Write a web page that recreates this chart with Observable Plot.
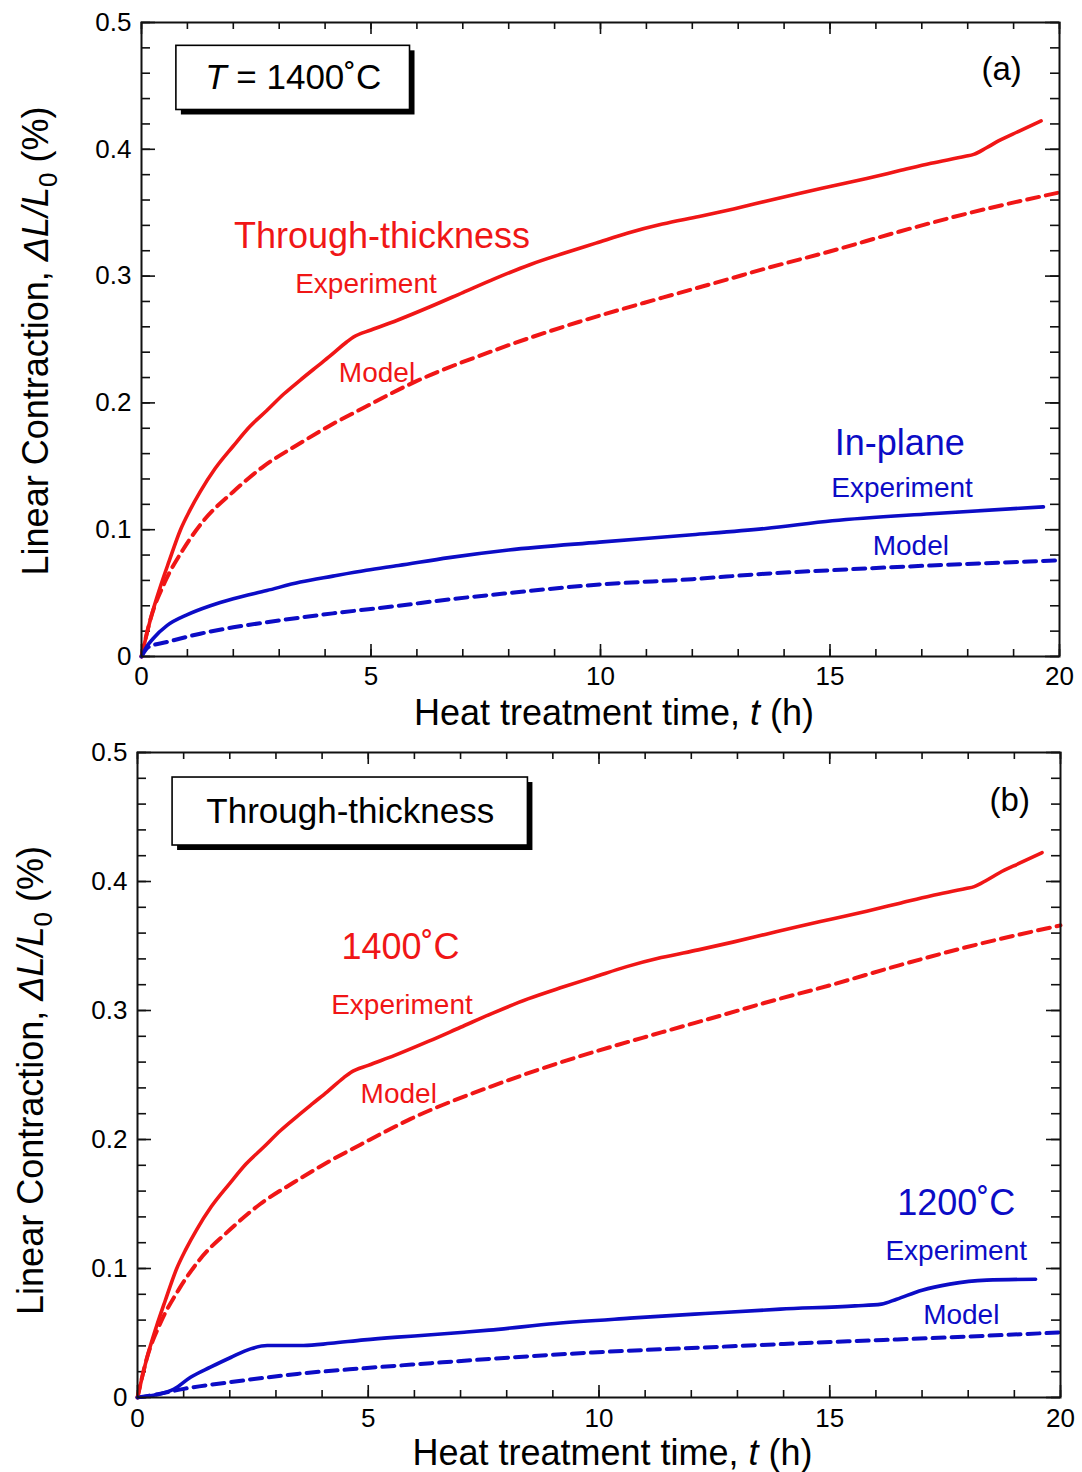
<!DOCTYPE html>
<html><head><meta charset="utf-8">
<script src="https://cdn.jsdelivr.net/npm/d3@7"></script>
<script src="https://cdn.jsdelivr.net/npm/@observablehq/plot@0.6"></script>
<style>
body{margin:0;background:#fff;}
#chart{width:1082px;}
#chart svg{display:block;}
</style></head><body><div id="chart"></div>
<script>
// ---------- data ----------
const xMajor = [0, 5, 10, 15, 20];
const xMinor = d3.range(0, 21, 1);
const yMajor = [0, 0.1, 0.2, 0.3, 0.4, 0.5];
const yMinor = d3.range(0, 26).map(i => i * 0.02);

// 1400 C through-thickness experiment
const redExpTime  = [0, 0.2, 0.41, 0.6, 0.85, 1.05, 1.28, 1.6, 2.0, 2.35, 2.73, 3.1, 3.46, 3.8, 4.11, 4.47, 4.62, 5.0, 5.56, 6.3, 7.0, 7.7, 8.46, 9.2, 9.9, 10.6, 11.35, 12.15, 12.9, 13.6, 14.3, 15.05, 15.8, 16.5, 17.2, 17.95, 18.13, 18.4, 18.67, 19.1, 19.6];
const redExpValue = [0, 0.03, 0.055, 0.075, 0.1, 0.115, 0.13, 0.148, 0.166, 0.181, 0.194, 0.207, 0.218, 0.228, 0.237, 0.248, 0.252, 0.2575, 0.265, 0.276, 0.287, 0.298, 0.309, 0.318, 0.326, 0.334, 0.341, 0.347, 0.353, 0.359, 0.365, 0.371, 0.377, 0.383, 0.389, 0.3945, 0.396, 0.401, 0.4066, 0.414, 0.4224];
// 1400 C through-thickness model
const redModelTime  = [0, 0.2, 0.5, 0.9, 1.35, 2.0, 2.66, 3.4, 4.1, 4.83, 5.92, 7.73, 9.54, 11.35, 12.73, 13.6, 15.05, 16.5, 17.95, 20];
const redModelValue = [0, 0.03, 0.058, 0.084, 0.107, 0.13, 0.15, 0.167, 0.182, 0.196, 0.216, 0.242, 0.264, 0.283, 0.297, 0.306, 0.32, 0.335, 0.349, 0.366];
// 1400 C in-plane experiment
const blueAExpTime  = [0, 0.1, 0.25, 0.56, 1.0, 1.5, 2.0, 2.73, 3.46, 4.17, 4.9, 5.6, 6.7, 8.0, 9.98, 12.0, 13.6, 15.05, 17.2, 19.65];
const blueAExpValue = [0, 0.007, 0.014, 0.0245, 0.033, 0.04, 0.0455, 0.052, 0.0587, 0.0634, 0.068, 0.0718, 0.078, 0.084, 0.0902, 0.096, 0.101, 0.107, 0.1126, 0.118];
// 1400 C in-plane model
const blueAModelTime  = [0, 0.15, 0.56, 1.28, 2.0, 2.73, 4.17, 5.6, 6.7, 8.0, 9.98, 12.0, 13.6, 15.0, 17.2, 19.95];
const blueAModelValue = [0, 0.0074, 0.0115, 0.018, 0.023, 0.027, 0.034, 0.04, 0.045, 0.05, 0.0568, 0.061, 0.0653, 0.068, 0.0718, 0.0758];
// 1200 C through-thickness experiment
const blueBExpTime  = [0, 0.43, 0.79, 1.15, 1.58, 2.02, 2.45, 2.81, 3.6, 4.19, 4.91, 5.63, 6.36, 7.08, 7.62, 9.05, 10.67, 12.3, 13.93, 15.55, 16.12, 16.45, 17.0, 17.6, 18.4, 19.46];
const blueBExpValue = [0, 0.0023, 0.0065, 0.0157, 0.0235, 0.031, 0.0377, 0.0403, 0.0403, 0.042, 0.0447, 0.0468, 0.0486, 0.0506, 0.0522, 0.0574, 0.0615, 0.0651, 0.0685, 0.071, 0.0724, 0.0762, 0.0832, 0.0879, 0.091, 0.0917];
// 1200 C through-thickness model
const blueBModelTime  = [0, 0.5, 1.0, 2.02, 3.46, 4.91, 6.36, 7.62, 9.86, 12.3, 14.74, 17.18, 19.97];
const blueBModelValue = [0, 0.003, 0.0067, 0.0119, 0.0183, 0.0227, 0.0266, 0.0299, 0.0349, 0.0388, 0.0426, 0.046, 0.0504];

// ---------- styling ----------
const RED = "#f01616", BLUE = "#0c0cc6";
const FONT = "'Liberation Sans', Arial, Helvetica, sans-serif";
const series = (ts, vs) => ts.map((t, i) => ({t, v: vs[i]}));

function makePanel(cfg) {
  const W = 1082, H = 736;
  const innerW = W - cfg.ml - cfg.mr, innerH = H - cfg.mt - cfg.mb;
  const MAJ = 12, MIN = 7, tickStroke = {stroke: "#111", strokeWidth: 1.6};
  const marks = [
    // inward ticks on all four sides
    Plot.tickX(xMinor, {x: d => d, insetTop: innerH - MIN, ...tickStroke}),
    Plot.tickX(xMajor, {x: d => d, insetTop: innerH - MAJ, ...tickStroke}),
    Plot.tickX(xMinor, {x: d => d, insetBottom: innerH - MIN, ...tickStroke}),
    Plot.tickX(xMajor, {x: d => d, insetBottom: innerH - MAJ, ...tickStroke}),
    Plot.tickY(yMinor, {y: d => d, insetRight: innerW - MIN - 2, ...tickStroke}),
    Plot.tickY(yMajor, {y: d => d, insetRight: innerW - MAJ - 2, ...tickStroke}),
    Plot.tickY(yMinor, {y: d => d, insetLeft: innerW - MIN - 2, ...tickStroke}),
    Plot.tickY(yMajor, {y: d => d, insetLeft: innerW - MAJ - 2, ...tickStroke}),
    Plot.axisX(xMajor, {anchor: "bottom", tickSize: 0, tickPadding: cfg.xPad, label: null, tickFormat: d => String(d), fontSize: 26}),
    Plot.axisY(yMajor, {anchor: "left", tickSize: 0, tickPadding: 10, label: null, tickFormat: d => d === 0 ? "0" : d.toFixed(1), fontSize: 26}),
  ];
  for (const s of cfg.lines) {
    marks.push(Plot.line(s.data, {x: "t", y: "v", stroke: s.color, strokeWidth: s.dashed ? 4 : 3.6,
      strokeDasharray: s.dashed ? "12,7" : null, curve: "monotone-x"}));
  }
  // label box with shadow
  marks.push(Plot.rect([cfg.box], {x1: "x1", x2: "x2", y1: "y1", y2: "y2", fill: "#000", dx: 5, dy: 5}));
  marks.push(Plot.rect([cfg.box], {x1: "x1", x2: "x2", y1: "y1", y2: "y2", fill: "#fff", stroke: "#000", strokeWidth: 1.6}));
  marks.push(Plot.text([cfg.box], {x: d => (d.x1 + d.x2) / 2, y: d => (d.y1 + d.y2) / 2, text: "label", fontSize: 35, fill: "#000"}));
  for (const l of cfg.labels) {
    marks.push(Plot.text([l], {x: "x", y: "y", text: "text", fill: l.color, fontSize: l.size}));
  }
  marks.push(Plot.frame({stroke: "#111", strokeWidth: 2}));

  const svg = Plot.plot({
    width: W, height: H,
    marginTop: cfg.mt, marginBottom: cfg.mb, marginLeft: cfg.ml, marginRight: cfg.mr,
    x: {domain: [0, 20]},
    y: {domain: [0, 0.5]},
    style: {fontFamily: FONT, fontSize: "26px", color: "#000", background: "#fff", overflow: "visible"},
    marks
  });
  const sel = d3.select(svg);
  // italic parts in box text
  sel.selectAll("text").filter(function() { return this.textContent === "T = 1400˚C"; }).each(function() {
    const t = d3.select(this); t.text("");
    t.append("tspan").attr("font-style", "italic").text("T");
    t.append("tspan").text(" = 1400˚C");
  });
  // x axis title
  const xl = sel.append("text").attr("x", cfg.ml + innerW / 2 + 14).attr("y", H - cfg.mb + cfg.xTitleDy)
    .attr("text-anchor", "middle").attr("font-size", 36).attr("fill", "#000");
  xl.append("tspan").text("Heat treatment time, ");
  xl.append("tspan").attr("font-style", "italic").text("t");
  xl.append("tspan").text(" (h)");
  // y axis title
  const yl = sel.append("text").attr("transform", `translate(${cfg.yTitleX},${cfg.mt + innerH / 2 + cfg.yTitleShift}) rotate(-90)`)
    .attr("text-anchor", "middle").attr("font-size", 36).attr("fill", "#000");
  yl.append("tspan").text("Linear Contraction, ");
  yl.append("tspan").attr("font-style", "italic").text("ΔL/L");
  yl.append("tspan").attr("font-size", 26).attr("dy", 9).text("0");
  yl.append("tspan").attr("dy", -9).text(" (%)");
  return svg;
}

const panelA = makePanel({
  mt: 22, mb: 80, ml: 141, mr: 23, xPad: 10, xTitleDy: 69, yTitleX: 48, yTitleShift: 2,
  lines: [
    {data: series(redModelTime, redModelValue), color: RED, dashed: true},
    {data: series(blueAModelTime, blueAModelValue), color: BLUE, dashed: true},
    {data: series(redExpTime, redExpValue), color: RED, dashed: false},
    {data: series(blueAExpTime, blueAExpValue), color: BLUE, dashed: false},
  ],
  box: {x1: 0.76, x2: 5.85, y1: 0.431, y2: 0.4816, label: "T = 1400˚C"},
  labels: [
    {text: "Through-thickness", x: 5.24, y: 0.3316, color: RED, size: 36},
    {text: "Experiment", x: 4.89, y: 0.2937, color: RED, size: 28},
    {text: "Model", x: 5.13, y: 0.2234, color: RED, size: 28},
    {text: "In-plane", x: 16.52, y: 0.168, color: BLUE, size: 36},
    {text: "Experiment", x: 16.57, y: 0.1326, color: BLUE, size: 28},
    {text: "Model", x: 16.76, y: 0.0868, color: BLUE, size: 28},
    {text: "(a)", x: 18.74, y: 0.4626, color: "#000", size: 33},
  ]
});

const panelB = makePanel({
  mt: 16, mb: 75, ml: 137, mr: 22, xPad: 11, xTitleDy: 68, yTitleX: 43, yTitleShift: 6,
  lines: [
    {data: series(redModelTime, redModelValue), color: RED, dashed: true},
    {data: series(blueBModelTime, blueBModelValue), color: BLUE, dashed: true},
    {data: series(redExpTime, redExpValue), color: RED, dashed: false},
    {data: series(blueBExpTime, blueBExpValue), color: BLUE, dashed: false},
  ],
  box: {x1: 0.76, x2: 8.46, y1: 0.4279, y2: 0.4806, label: "Through-thickness"},
  labels: [
    {text: "1400˚C", x: 5.7, y: 0.3488, color: RED, size: 36},
    {text: "Experiment", x: 5.73, y: 0.3039, color: RED, size: 28},
    {text: "Model", x: 5.66, y: 0.2349, color: RED, size: 28},
    {text: "1200˚C", x: 17.74, y: 0.1504, color: BLUE, size: 36},
    {text: "Experiment", x: 17.74, y: 0.1132, color: BLUE, size: 28},
    {text: "Model", x: 17.85, y: 0.0636, color: BLUE, size: 28},
    {text: "(b)", x: 18.9, y: 0.4628, color: "#000", size: 33},
  ]
});

document.getElementById("chart").append(panelA, panelB);
</script></body></html>
